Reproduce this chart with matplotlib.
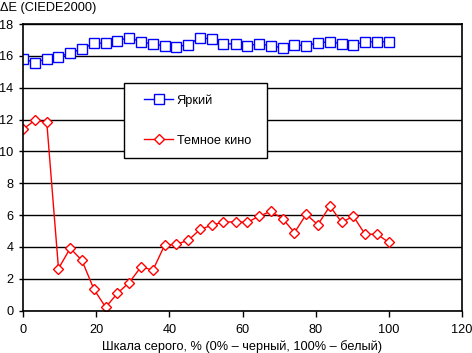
import matplotlib
matplotlib.use('Agg')
import matplotlib.pyplot as plt
from matplotlib.patches import Rectangle

# Шкала серого, %
gray = [0, 3.2, 6.5, 9.7, 12.9, 16.1, 19.4, 22.6, 25.8, 29.0, 32.3, 35.5,
        38.7, 41.9, 45.2, 48.4, 51.6, 54.8, 58.1, 61.3, 64.5, 67.7, 71.0, 74.2,
        77.4, 80.6, 83.9, 87.1, 90.3, 93.5, 96.8, 100]

bright = [15.82, 15.57, 15.82, 15.94, 16.19, 16.43, 16.80, 16.80, 16.95, 17.14,
          16.88, 16.74, 16.63, 16.57, 16.70, 17.14, 17.05, 16.74, 16.76, 16.63,
          16.76, 16.63, 16.51, 16.70, 16.63, 16.82, 16.88, 16.76, 16.70, 16.88,
          16.88, 16.88]

dark = [11.38, 11.95, 11.82, 2.63, 3.91, 3.15, 1.33, 0.20, 1.08, 1.75,
        2.75, 2.53, 4.10, 4.16, 4.41, 5.10, 5.35, 5.57, 5.56, 5.54,
        5.92, 6.23, 5.77, 4.89, 6.04, 5.39, 6.56, 5.54, 5.92, 4.79,
        4.79, 4.28]

labels = ['Яркий', 'Темное кино']

plt.rcParams['font.family'] = ['Liberation Sans', 'DejaVu Sans']
plt.rcParams['font.size'] = 9.2

W, H = 472, 353
fig = plt.figure(figsize=(W / 100, H / 100), dpi=100)
# plot area in pixels: x 23..462, y 24..310.5
x0, x1, y0, y1 = 23, 462, 24, 310.5
ax = fig.add_axes([x0 / W, 1 - y1 / H, (x1 - x0) / W, (y1 - y0) / H])


def ax_frac(px, py):
    return (px - x0) / (x1 - x0), (y1 - py) / (y1 - y0)


ax.plot(gray, bright, color='#0000ff', linewidth=1, marker='s', markersize=6.5,
        markerfacecolor='white', markeredgecolor='#0000ff', markeredgewidth=1,
        label=labels[0])
ax.plot(gray, dark, color='#ff0000', linewidth=1, marker='D', markersize=5.5,
        markerfacecolor='white', markeredgecolor='#ff0000', markeredgewidth=1,
        label=labels[1])

ax.set_xlim(0, 120)
ax.set_ylim(0, 18)
ax.set_xticks(range(0, 121, 20))
ax.set_yticks(range(0, 19, 2))
ax.grid(True, axis='y', color='black', linewidth=1)
ax.set_axisbelow(True)
for s in ax.spines.values():
    s.set_linewidth(1.2)
ax.tick_params(axis='x', direction='out', length=4, width=1, pad=5.5)
ax.tick_params(axis='y', direction='out', length=3, width=1, pad=4)

ax.set_xlabel('Шкала серого, % (0% – черный, 100% – белый)', labelpad=3.5)
fig.text(0.0, 1 - 8 / H, 'ΔE (CIEDE2000)', ha='left', va='center')

# legend box
bx, by = ax_frac(124, 158)
bx2, by2 = ax_frac(267, 83)
ax.add_patch(Rectangle((bx, by), bx2 - bx, by2 - by, transform=ax.transAxes,
                       facecolor='white', edgecolor='black', linewidth=1, zorder=5))

leg = ax.legend(loc='upper left', bbox_to_anchor=ax_frac(144, 94),
                frameon=False, borderpad=0, labelspacing=2.2, handlelength=2.3,
                handletextpad=0.25, borderaxespad=0)
leg.set_zorder(6)

fig.savefig('out.png', dpi=100)
